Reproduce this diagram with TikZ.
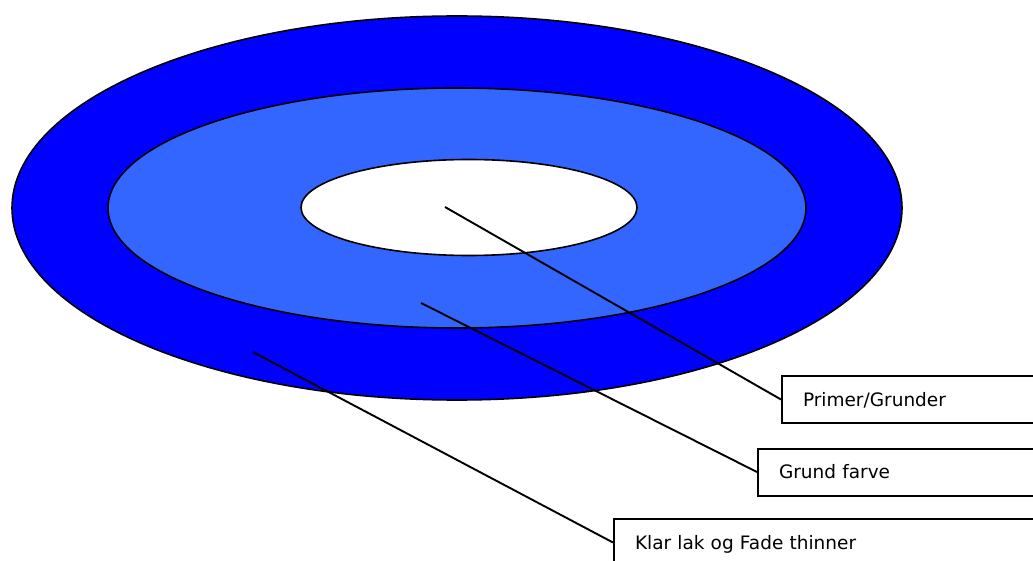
\documentclass[tikz,border=0pt]{standalone}
\usepackage{fontspec}
\setmainfont{DejaVu Sans}
\definecolor{outerblue}{HTML}{0000FF}
\definecolor{midblue}{HTML}{3366FF}
\begin{document}
\begin{tikzpicture}[x=1pt,y=-1pt,
  ring/.style={draw=black,line width=1.6pt},
  conn/.style={draw=black,line width=1.9pt},
  label box/.style={draw=black,line width=2pt,fill=white,anchor=west,
    minimum height=47pt,inner ysep=0pt,inner xsep=21pt,text width=420pt,align=left,
    text height=13.5pt,text depth=0pt,font=\fontsize{18.5}{22}\selectfont}]
\useasboundingbox (0,0) rectangle (1033,561);
\clip (0,0) rectangle (1033,561);
\fill[white] (0,0) rectangle (1033,561);
\path[ring,fill=outerblue] (457,208) ellipse [x radius=445, y radius=192];
\path[ring,fill=midblue] (457,208) ellipse [x radius=349, y radius=120];
\path[ring,fill=white] (469,207.5) ellipse [x radius=168, y radius=48];
\coordinate (c1) at (445,207);
\coordinate (c2) at (421,303);
\coordinate (c3) at (253,352);
\node[label box] (b1) at (781,399.5) {Primer/Grunder};
\node[label box] (b2) at (757,472) {Grund farve};
\node[label box] (b3) at (613,542.5) {Klar lak og Fade thinner};
\draw[conn] (c1) -- (b1.west);
\draw[conn] (c2) -- (b2.west);
\draw[conn] (c3) -- (b3.west);
\end{tikzpicture}
\end{document}
